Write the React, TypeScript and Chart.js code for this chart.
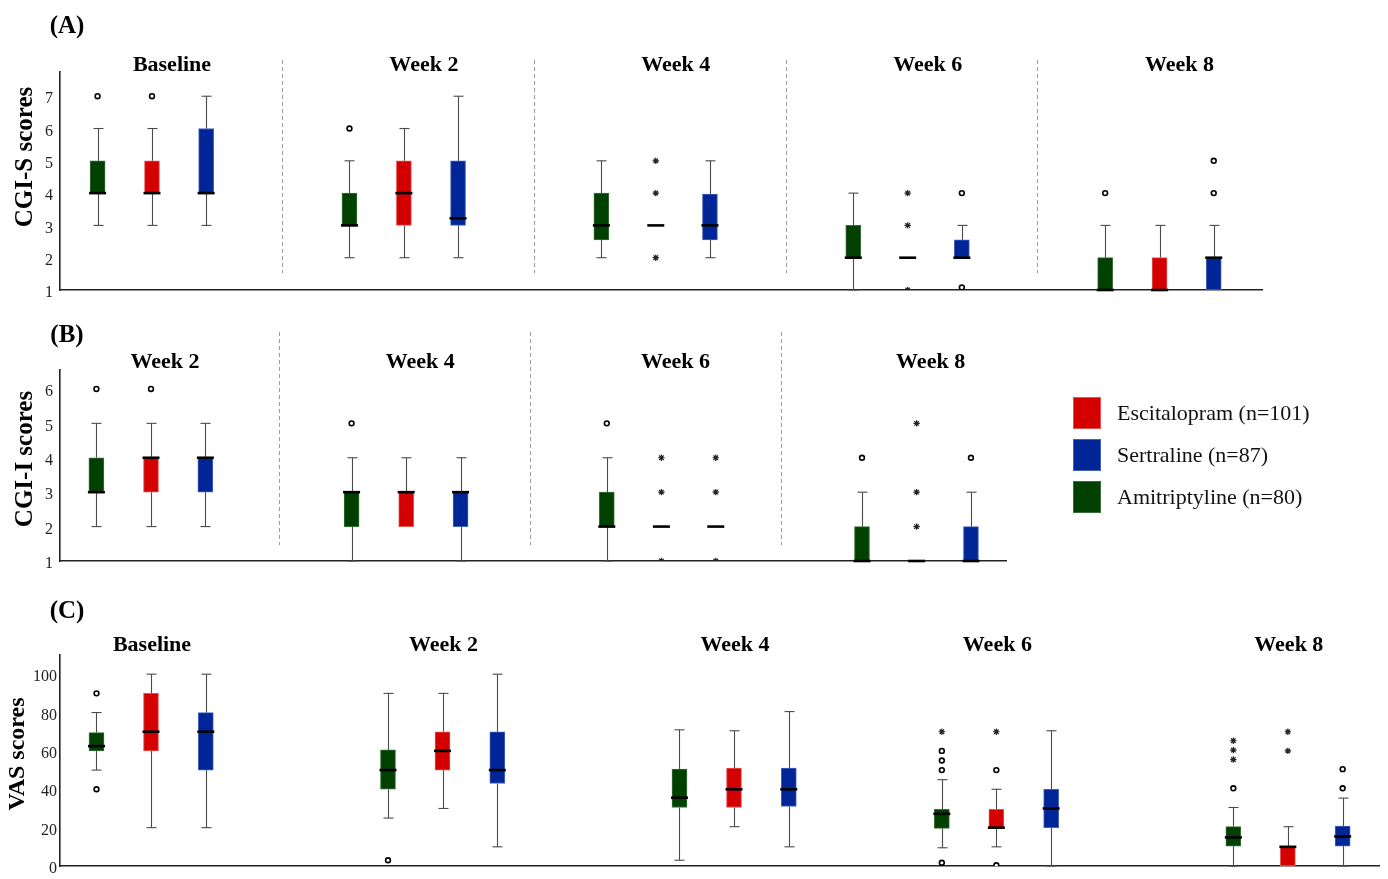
import React, { useEffect, useRef } from "react";
import { Chart, registerables } from "chart.js";
Chart.register(...registerables);

const SERIF = "'Liberation Serif', 'Times New Roman', serif";
const GREEN = "#004000";
const RED = "#d40000";
const BLUE = "#002596";
const GREEN_EDGE = "#3a6e3a";
const RED_EDGE = "#e25555";
const BLUE_EDGE = "#4660b8";

// Legend
const legendLabels = ["Escitalopram (n=101)", "Sertraline (n=87)", "Amitriptyline (n=80)"];

// ---------- Panel A: CGI-S ----------
const cgisWeeks = ["Baseline", "Week 2", "Week 4", "Week 6", "Week 8"];
// each row: [lower whisker, Q1, median, Q3, upper whisker]
const cgisAmitriptyline = [[3, 4, 4, 5, 6], [2, 3, 3, 4, 5], [2, 2.55, 3, 4, 5], [1, 2, 2, 3, 4], [1, 1, 1, 2, 3]];
const cgisEscitalopram = [[3, 4, 4, 5, 6], [2, 3, 4, 5, 6], [3, 3, 3, 3, 3], [2, 2, 2, 2, 2], [1, 1, 1, 2, 3]];
const cgisSertraline = [[3, 4, 4, 6, 7], [2, 3, 3.22, 5, 7], [2, 2.55, 3, 3.97, 5], [2, 2, 2, 2.55, 3], [1, 1, 2, 2, 3]];
// outliers: [week index, value, marker]
const cgisAmitriptylineOut = [[0, 7, "o"], [1, 6, "o"], [4, 4, "o"]];
const cgisEscitalopramOut = [[0, 7, "o"], [2, 5, "*"], [2, 4, "*"], [2, 2, "*"], [3, 4, "*"], [3, 3, "*"], [3, 1, "*"]];
const cgisSertralineOut = [[3, 4, "o"], [3, 1.08, "o"], [4, 4, "o"], [4, 5, "o"]];

// ---------- Panel B: CGI-I ----------
const cgiiWeeks = ["Week 2", "Week 4", "Week 6", "Week 8"];
const cgiiAmitriptyline = [[2, 3, 3, 4, 5], [1, 2, 3, 3, 4], [1, 2, 2, 3, 4], [1, 1, 1, 2, 3]];
const cgiiEscitalopram = [[2, 3, 4, 4, 5], [2, 2, 3, 3, 4], [2, 2, 2, 2, 2], [1, 1, 1, 1, 1]];
const cgiiSertraline = [[2, 3, 4, 4, 5], [1, 2, 3, 3, 4], [2, 2, 2, 2, 2], [1, 1, 1, 2, 3]];
const cgiiAmitriptylineOut = [[0, 6, "o"], [1, 5, "o"], [2, 5, "o"], [3, 4, "o"]];
const cgiiEscitalopramOut = [[0, 6, "o"], [2, 4, "*"], [2, 3, "*"], [2, 1, "*"], [3, 5, "*"], [3, 3, "*"], [3, 2, "*"]];
const cgiiSertralineOut = [[2, 4, "*"], [2, 3, "*"], [2, 1, "*"], [3, 4, "o"]];

// ---------- Panel C: VAS ----------
const vasWeeks = ["Baseline", "Week 2", "Week 4", "Week 6", "Week 8"];
const vasAmitriptyline = [[50, 60, 62.5, 69.5, 80], [25, 40, 50, 60.5, 90], [3, 30.5, 35.6, 50.5, 71], [9.5, 19.6, 27.2, 29.5, 45], [0, 10.4, 14.9, 20.5, 30.5]];
const vasEscitalopram = [[20, 60, 70, 90, 100], [30, 50, 60, 70, 90], [20.5, 30.5, 40, 51, 70.5], [10, 20, 20, 29.5, 40], [0, 0, 10, 10, 20.5]];
const vasSertraline = [[20, 50, 70, 80, 100], [10, 43, 50, 70, 100], [10, 31, 40, 51, 80.5], [0, 20, 30, 40, 70.5], [0, 10.4, 15.4, 20.8, 35.4]];
const vasAmitriptylineOut = [[0, 90, "o"], [0, 40, "o"], [1, 3, "o"], [3, 50, "o"], [3, 55, "o"], [3, 60, "o"], [3, 70, "*"], [3, 1.7, "o"], [4, 40.5, "o"], [4, 55.5, "*"], [4, 60.4, "*"], [4, 65.3, "*"]];
const vasEscitalopramOut = [[3, 50, "o"], [3, 70, "*"], [3, 0.4, "o"], [4, 60, "*"], [4, 70, "*"]];
const vasSertralineOut = [[4, 40.5, "o"], [4, 50.5, "o"]];

type Series = { color: string; edge: string; stats: number[][]; outliers: any[][] };
type PanelCfg = {
  weeks: string[];
  positions: number[];
  offsets: number[];
  series: Series[];
  xMin: number; xMax: number;
  yMin: number; yMax: number; yStep: number;
  tickPad: number;
  padding: { top: number; right: number; bottom: number; left: number };
  titleY: number; titleDx: number;
  yTitle: string; yTitleX: number; yTitleY: number; yTitleSize: number;
  label: string; labelY: number;
  separators: number[]; sepTop: number; sepBottom: number;
  legend: boolean;
};

function makePlugin(cfg: PanelCfg) {
  return {
    id: "boxExtras",
    beforeDatasetsDraw(chart: any) {
      const { ctx, chartArea } = chart;
      const x = chart.scales.x;
      const y = chart.scales.y;
      ctx.save();
      // separators
      ctx.strokeStyle = "#9c9c9c";
      ctx.lineWidth = 1;
      ctx.setLineDash([4, 3]);
      cfg.separators.forEach((s) => {
        const px = Math.round(x.getPixelForValue(s)) + 0.5;
        ctx.beginPath();
        ctx.moveTo(px, chartArea.top + cfg.sepTop);
        ctx.lineTo(px, chartArea.bottom + cfg.sepBottom);
        ctx.stroke();
      });
      ctx.setLineDash([]);
      // whiskers
      ctx.strokeStyle = "#4a4a4a";
      ctx.lineWidth = 1.1;
      cfg.series.forEach((s, si) => {
        s.stats.forEach((st, gi) => {
          const cx = Math.round(x.getPixelForValue(cfg.positions[gi] + cfg.offsets[si])) + 0.5;
          const [lo, q1, , q3, hi] = st;
          const seg = (a: number, b: number) => {
            const pa = y.getPixelForValue(a);
            const pb = y.getPixelForValue(b);
            ctx.beginPath();
            ctx.moveTo(cx, pa);
            ctx.lineTo(cx, pb);
            ctx.stroke();
            ctx.beginPath();
            ctx.moveTo(cx - 5, pb);
            ctx.lineTo(cx + 5, pb);
            ctx.stroke();
          };
          if (hi > q3) seg(q3, hi);
          if (lo < q1) seg(q1, lo);
        });
      });
      ctx.restore();
    },
    afterDatasetsDraw(chart: any) {
      const { ctx } = chart;
      const x = chart.scales.x;
      const y = chart.scales.y;
      ctx.save();
      // medians
      ctx.strokeStyle = "#000";
      ctx.lineWidth = 2.6;
      cfg.series.forEach((s, si) => {
        s.stats.forEach((st, gi) => {
          const cx = x.getPixelForValue(cfg.positions[gi] + cfg.offsets[si]);
          const py = y.getPixelForValue(st[2]);
          ctx.beginPath();
          ctx.moveTo(cx - 8.5, py);
          ctx.lineTo(cx + 8.5, py);
          ctx.stroke();
        });
      });
      // week titles
      ctx.fillStyle = "#000";
      ctx.textAlign = "center";
      ctx.textBaseline = "middle";
      ctx.font = `bold 22px ${SERIF}`;
      cfg.weeks.forEach((w, gi) => {
        ctx.fillText(w, x.getPixelForValue(cfg.positions[gi]) + cfg.titleDx, cfg.titleY);
      });
      // panel label
      ctx.font = `bold 25px ${SERIF}`;
      ctx.fillText(cfg.label, 67, cfg.labelY);
      // y title
      ctx.save();
      ctx.translate(cfg.yTitleX, cfg.yTitleY);
      ctx.rotate(-Math.PI / 2);
      ctx.font = `bold ${cfg.yTitleSize}px ${SERIF}`;
      ctx.fillText(cfg.yTitle, 0, 0);
      ctx.restore();
      // legend
      if (cfg.legend) {
        const cols = [[RED, RED_EDGE], [BLUE, BLUE_EDGE], [GREEN, GREEN_EDGE]];
        const tops = [87, 129, 171];
        ctx.textAlign = "left";
        ctx.font = `22px ${SERIF}`;
        legendLabels.forEach((l, i) => {
          ctx.fillStyle = cols[i][1];
          ctx.fillRect(1073, tops[i], 28, 32);
          ctx.fillStyle = cols[i][0];
          ctx.fillRect(1074, tops[i] + 1, 26, 30);
          ctx.fillStyle = "#111";
          ctx.fillText(l, 1117, tops[i] + 17);
        });
      }
      ctx.restore();
    },
  };
}

function buildChart(canvas: HTMLCanvasElement, cfg: PanelCfg) {
  const datasets: any[] = [];
  cfg.series.forEach((s, si) => {
    datasets.push({
      type: "bar",
      data: s.stats.map((st, gi) => ({ x: cfg.positions[gi] + cfg.offsets[si], y: [st[1], st[3]] })),
      backgroundColor: s.color,
      borderColor: s.edge,
      borderWidth: 1,
      borderSkipped: false,
      barThickness: 15,
      grouped: false,
      order: 2,
    });
  });
  cfg.series.forEach((s, si) => {
    const circ = s.outliers.filter((o) => o[2] === "o").map((o) => ({ x: cfg.positions[o[0]] + cfg.offsets[si], y: o[1] }));
    const star = s.outliers.filter((o) => o[2] === "*").map((o) => ({ x: cfg.positions[o[0]] + cfg.offsets[si], y: o[1] }));
    datasets.push({
      type: "scatter",
      data: circ,
      pointStyle: "circle",
      pointRadius: 2.4,
      pointBorderWidth: 1.6,
      pointBorderColor: "#000",
      pointBackgroundColor: "#fff",
      showLine: false,
      order: 1,
    });
    datasets.push({
      type: "scatter",
      data: star,
      pointStyle: "star",
      pointRadius: 3.2,
      pointBorderWidth: 1.2,
      pointBorderColor: "#222",
      pointBackgroundColor: "#222",
      showLine: false,
      order: 1,
    });
  });

  return new Chart(canvas, {
    type: "bar",
    data: { datasets },
    plugins: [makePlugin(cfg)],
    options: {
      responsive: false,
      maintainAspectRatio: false,
      animation: false,
      events: [],
      layout: { padding: cfg.padding },
      plugins: { legend: { display: false }, tooltip: { enabled: false }, title: { display: false } },
      scales: {
        x: {
          type: "linear",
          offset: false,
          min: cfg.xMin,
          max: cfg.xMax,
          grid: { display: false, drawTicks: false, offset: false },
          ticks: { display: false },
          border: { display: true, color: "#222", width: 1.6 },
          afterFit: (s: any) => { s.height = 0; },
        },
        y: {
          type: "linear",
          min: cfg.yMin,
          max: cfg.yMax,
          grid: { display: false, drawTicks: false },
          border: { display: true, color: "#222", width: 1.6 },
          ticks: {
            stepSize: cfg.yStep,
            includeBounds: false,
            padding: cfg.tickPad,
            labelOffset: 3,
            color: "#222",
            font: { family: SERIF, size: 16 },
          },
          afterFit: (s: any) => { s.width = 60; },
        },
      },
    } as any,
  });
}

const panelA: PanelCfg = {
  weeks: cgisWeeks,
  positions: [0, 1, 2, 3, 4],
  offsets: [-0.216, 0, 0.215],
  series: [
    { color: GREEN, edge: GREEN_EDGE, stats: cgisAmitriptyline, outliers: cgisAmitriptylineOut },
    { color: RED, edge: RED_EDGE, stats: cgisEscitalopram, outliers: cgisEscitalopramOut },
    { color: BLUE, edge: BLUE_EDGE, stats: cgisSertraline, outliers: cgisSertralineOut },
  ],
  xMin: -0.3652, xMax: 4.4066,
  yMin: 1, yMax: 7.75, yStep: 1,
  tickPad: 7,
  padding: { top: 72, right: 126, bottom: 20, left: 0 },
  titleY: 65, titleDx: 20,
  yTitle: "CGI-S scores", yTitleX: 26, yTitleY: 157, yTitleSize: 25,
  label: "(A)", labelY: 27,
  separators: [0.515, 1.515, 2.515, 3.515], sepTop: -12, sepBottom: -17,
  legend: false,
};

const panelB: PanelCfg = {
  weeks: cgiiWeeks,
  positions: [0, 1, 2, 3],
  offsets: [-0.214, 0, 0.213],
  series: [
    { color: GREEN, edge: GREEN_EDGE, stats: cgiiAmitriptyline, outliers: cgiiAmitriptylineOut },
    { color: RED, edge: RED_EDGE, stats: cgiiEscitalopram, outliers: cgiiEscitalopramOut },
    { color: BLUE, edge: BLUE_EDGE, stats: cgiiSertraline, outliers: cgiiSertralineOut },
  ],
  xMin: -0.3566, xMax: 3.3503,
  yMin: 1, yMax: 6.55, yStep: 1,
  tickPad: 7,
  padding: { top: 60, right: 382, bottom: 19, left: 0 },
  titleY: 52, titleDx: 14,
  yTitle: "CGI-I scores", yTitleX: 26, yTitleY: 149, yTitleSize: 25,
  label: "(B)", labelY: 26,
  separators: [0.5, 1.485, 2.47], sepTop: -38, sepBottom: -16,
  legend: true,
};

const panelC: PanelCfg = {
  weeks: vasWeeks,
  positions: [0, 1, 2, 2.9, 3.9],
  offsets: [-0.187, 0, 0.188],
  series: [
    { color: GREEN, edge: GREEN_EDGE, stats: vasAmitriptyline, outliers: vasAmitriptylineOut },
    { color: RED, edge: RED_EDGE, stats: vasEscitalopram, outliers: vasEscitalopramOut },
    { color: BLUE, edge: BLUE_EDGE, stats: vasSertraline, outliers: vasSertralineOut },
  ],
  xMin: -0.3122, xMax: 4.2127,
  yMin: 0, yMax: 110, yStep: 20,
  tickPad: 3,
  padding: { top: 75, right: 9, bottom: 13, left: 0 },
  titleY: 65, titleDx: 1,
  yTitle: "VAS scores", yTitleX: 18, yTitleY: 174, yTitleSize: 24,
  label: "(C)", labelY: 32,
  separators: [], sepTop: 0, sepBottom: 0,
  legend: false,
};

function Panel({ cfg, top, height }: { cfg: PanelCfg; top: number; height: number }) {
  const ref = useRef<HTMLCanvasElement>(null);
  useEffect(() => {
    const chart = buildChart(ref.current as HTMLCanvasElement, cfg);
    return () => chart.destroy();
  }, [cfg]);
  return (
    <canvas
      ref={ref}
      width={1388}
      height={height}
      style={{ position: "absolute", left: 0, top, width: 1388, height, display: "block" }}
    />
  );
}

export default function App() {
  return (
    <div style={{ position: "absolute", left: 0, top: 0, width: 1388, height: 879, background: "#fff", overflow: "hidden" }}>
      <Panel cfg={panelA} top={0} height={310} />
      <Panel cfg={panelB} top={310} height={270} />
      <Panel cfg={panelC} top={580} height={299} />
    </div>
  );
}
